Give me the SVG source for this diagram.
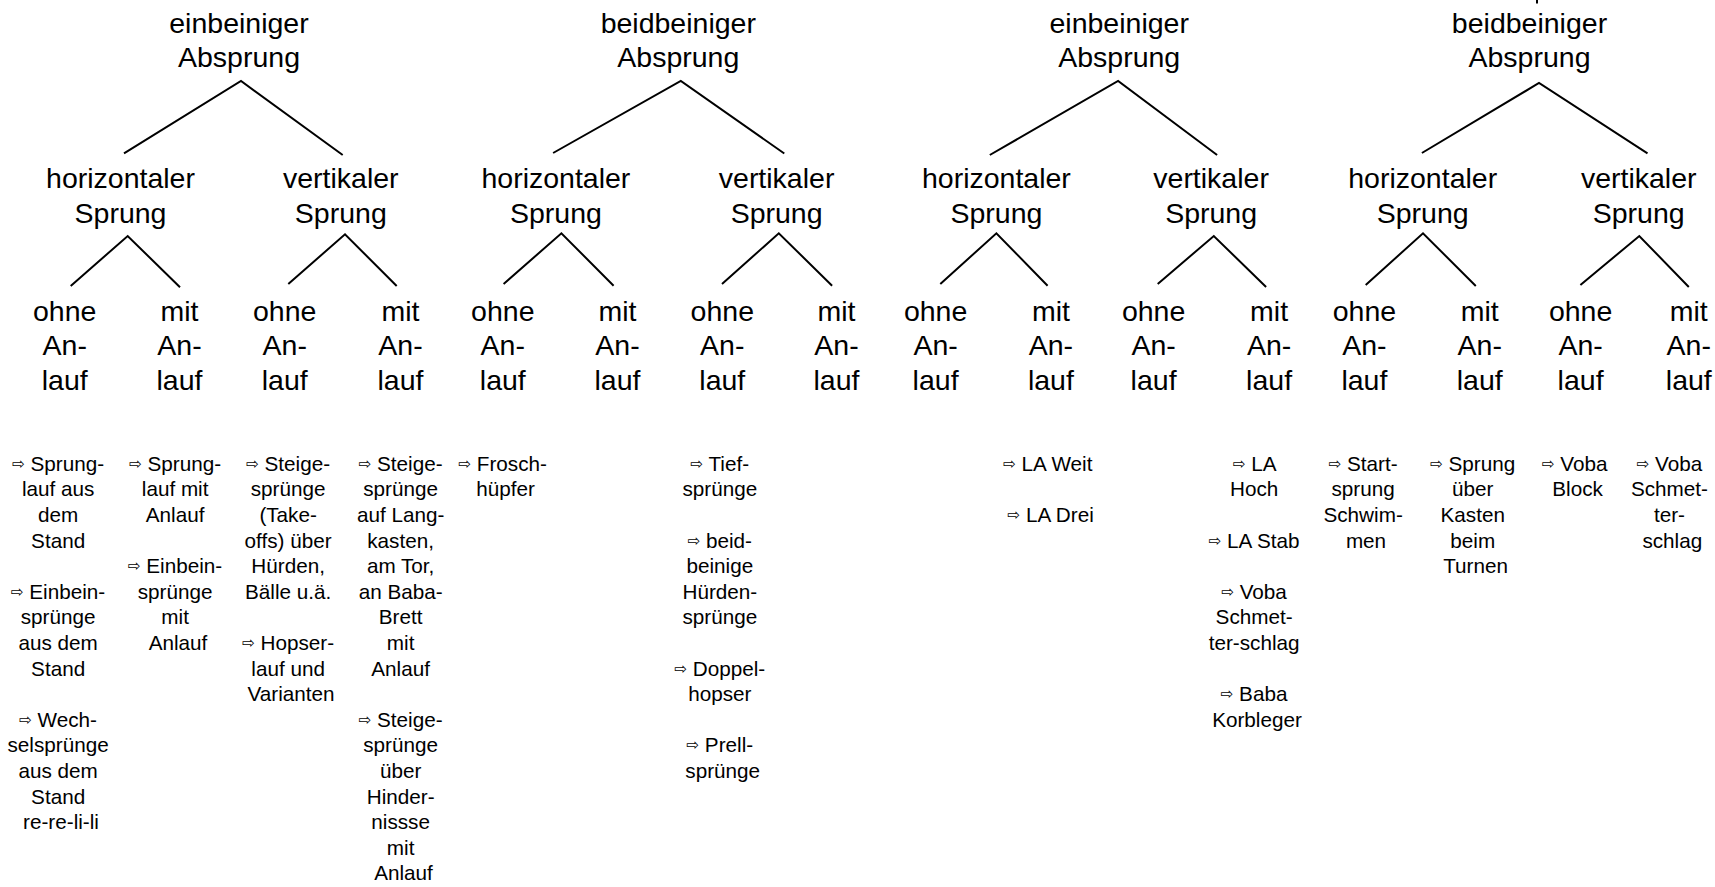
<svg xmlns="http://www.w3.org/2000/svg" width="1715" height="887" viewBox="0 0 1715 887">
  <style>
    text { font-family: "Liberation Sans", Arial, sans-serif; fill: #000; text-anchor: middle; }
    .h { font-size: 28.5px; }
    .s { font-size: 20.7px; }
    .ar { font-family: "DejaVu Sans", sans-serif; font-size: 15px; }
    .edge { stroke: #000; stroke-width: 2; fill: none; stroke-linecap: butt; }
  </style>
  <rect width="1715" height="887" fill="#fff"/>

  <!-- connectors -->
  <g id="connectors" class="edge">
    <line x1="1537" y1="0" x2="1537" y2="3.5"/>
    <!-- tree 1 -->
    <polyline points="124,153.3 241,81 342.7,155"/>
    <polyline points="70.7,286 127.7,236 180,287.3"/>
    <polyline points="288.3,284 345,234.3 396.7,286"/>
    <!-- tree 2 -->
    <polyline points="553.1,153 680.8,81 784.3,153.5"/>
    <polyline points="503.6,284 561.4,233.3 613.6,285.7"/>
    <polyline points="722,284 778.8,233.3 832.1,285.7"/>
    <!-- tree 3 -->
    <polyline points="989.8,155 1118.1,81 1217.1,155"/>
    <polyline points="940.3,284 996.4,233.3 1047.6,285.7"/>
    <polyline points="1157.7,284 1213.8,236 1266.1,287"/>
    <!-- tree 4 -->
    <polyline points="1421.9,153 1539,83 1647.5,153.3"/>
    <polyline points="1365.7,285 1423,233.3 1475.8,286"/>
    <polyline points="1580.4,285 1639.3,236 1688.8,287"/>
  </g>

  <!-- root nodes -->
  <g id="root-1"><text class="h"><tspan x="239" y="33.3">einbeiniger</tspan><tspan x="239" y="67.3">Absprung</tspan></text></g>
  <g id="root-2"><text class="h"><tspan x="678.3" y="33.3">beidbeiniger</tspan><tspan x="678.3" y="67.3">Absprung</tspan></text></g>
  <g id="root-3"><text class="h"><tspan x="1119.2" y="33.3">einbeiniger</tspan><tspan x="1119.2" y="67.3">Absprung</tspan></text></g>
  <g id="root-4"><text class="h"><tspan x="1529.5" y="33.3">beidbeiniger</tspan><tspan x="1529.5" y="67.3">Absprung</tspan></text></g>

  <!-- direction nodes -->
  <g id="dir-1h"><text class="h"><tspan x="120.5" y="188.3">horizontaler</tspan><tspan x="120.5" y="222.7">Sprung</tspan></text></g>
  <g id="dir-1v"><text class="h"><tspan x="340.8" y="188.3">vertikaler</tspan><tspan x="340.8" y="222.7">Sprung</tspan></text></g>
  <g id="dir-2h"><text class="h"><tspan x="555.9" y="188.3">horizontaler</tspan><tspan x="555.9" y="222.7">Sprung</tspan></text></g>
  <g id="dir-2v"><text class="h"><tspan x="776.6" y="188.3">vertikaler</tspan><tspan x="776.6" y="222.7">Sprung</tspan></text></g>
  <g id="dir-3h"><text class="h"><tspan x="996.4" y="188.3">horizontaler</tspan><tspan x="996.4" y="222.7">Sprung</tspan></text></g>
  <g id="dir-3v"><text class="h"><tspan x="1211.1" y="188.3">vertikaler</tspan><tspan x="1211.1" y="222.7">Sprung</tspan></text></g>
  <g id="dir-4h"><text class="h"><tspan x="1422.7" y="188.3">horizontaler</tspan><tspan x="1422.7" y="222.7">Sprung</tspan></text></g>
  <g id="dir-4v"><text class="h"><tspan x="1638.7" y="188.3">vertikaler</tspan><tspan x="1638.7" y="222.7">Sprung</tspan></text></g>

  <!-- run-up leaves -->
  <g id="leaf-1a"><text class="h"><tspan x="64.7" y="320.5">ohne</tspan><tspan x="64.7" y="355.3">An-</tspan><tspan x="64.7" y="390">lauf</tspan></text></g>
  <g id="leaf-1b"><text class="h"><tspan x="179.5" y="320.5">mit</tspan><tspan x="179.5" y="355.3">An-</tspan><tspan x="179.5" y="390">lauf</tspan></text></g>
  <g id="leaf-1c"><text class="h"><tspan x="284.7" y="320.5">ohne</tspan><tspan x="284.7" y="355.3">An-</tspan><tspan x="284.7" y="390">lauf</tspan></text></g>
  <g id="leaf-1d"><text class="h"><tspan x="400.5" y="320.5">mit</tspan><tspan x="400.5" y="355.3">An-</tspan><tspan x="400.5" y="390">lauf</tspan></text></g>
  <g id="leaf-2a"><text class="h"><tspan x="502.8" y="320.5">ohne</tspan><tspan x="502.8" y="355.3">An-</tspan><tspan x="502.8" y="390">lauf</tspan></text></g>
  <g id="leaf-2b"><text class="h"><tspan x="617.5" y="320.5">mit</tspan><tspan x="617.5" y="355.3">An-</tspan><tspan x="617.5" y="390">lauf</tspan></text></g>
  <g id="leaf-2c"><text class="h"><tspan x="722.3" y="320.5">ohne</tspan><tspan x="722.3" y="355.3">An-</tspan><tspan x="722.3" y="390">lauf</tspan></text></g>
  <g id="leaf-2d"><text class="h"><tspan x="836.5" y="320.5">mit</tspan><tspan x="836.5" y="355.3">An-</tspan><tspan x="836.5" y="390">lauf</tspan></text></g>
  <g id="leaf-3a"><text class="h"><tspan x="935.6" y="320.5">ohne</tspan><tspan x="935.6" y="355.3">An-</tspan><tspan x="935.6" y="390">lauf</tspan></text></g>
  <g id="leaf-3b"><text class="h"><tspan x="1050.9" y="320.5">mit</tspan><tspan x="1050.9" y="355.3">An-</tspan><tspan x="1050.9" y="390">lauf</tspan></text></g>
  <g id="leaf-3c"><text class="h"><tspan x="1153.6" y="320.5">ohne</tspan><tspan x="1153.6" y="355.3">An-</tspan><tspan x="1153.6" y="390">lauf</tspan></text></g>
  <g id="leaf-3d"><text class="h"><tspan x="1269.1" y="320.5">mit</tspan><tspan x="1269.1" y="355.3">An-</tspan><tspan x="1269.1" y="390">lauf</tspan></text></g>
  <g id="leaf-4a"><text class="h"><tspan x="1364.4" y="320.5">ohne</tspan><tspan x="1364.4" y="355.3">An-</tspan><tspan x="1364.4" y="390">lauf</tspan></text></g>
  <g id="leaf-4b"><text class="h"><tspan x="1479.7" y="320.5">mit</tspan><tspan x="1479.7" y="355.3">An-</tspan><tspan x="1479.7" y="390">lauf</tspan></text></g>
  <g id="leaf-4c"><text class="h"><tspan x="1580.6" y="320.5">ohne</tspan><tspan x="1580.6" y="355.3">An-</tspan><tspan x="1580.6" y="390">lauf</tspan></text></g>
  <g id="leaf-4d"><text class="h"><tspan x="1688.8" y="320.5">mit</tspan><tspan x="1688.8" y="355.3">An-</tspan><tspan x="1688.8" y="390">lauf</tspan></text></g>

  <!-- example lists, one column per leaf; line step 25.6 -->
  <g id="ex-1a"><text class="s">
    <tspan x="61" y="470.7"><tspan class="ar" dy="-2">⇨</tspan><tspan dy="2"> Sprung-</tspan></tspan>
    <tspan x="61" y="496.3">lauf aus</tspan>
    <tspan x="61" y="521.9">dem</tspan>
    <tspan x="61" y="547.5">Stand</tspan>
    <tspan x="61" y="598.7"><tspan class="ar" dy="-2">⇨</tspan><tspan dy="2"> Einbein-</tspan></tspan>
    <tspan x="61" y="624.3">sprünge</tspan>
    <tspan x="61" y="649.9">aus dem</tspan>
    <tspan x="61" y="675.5">Stand</tspan>
    <tspan x="61" y="726.7"><tspan class="ar" dy="-2">⇨</tspan><tspan dy="2"> Wech-</tspan></tspan>
    <tspan x="61" y="752.3">selsprünge</tspan>
    <tspan x="61" y="777.9">aus dem</tspan>
    <tspan x="61" y="803.5">Stand</tspan>
    <tspan x="61" y="829.1">re-re-li-li</tspan>
  </text></g>
  <g id="ex-1b"><text class="s">
    <tspan x="178" y="470.7"><tspan class="ar" dy="-2">⇨</tspan><tspan dy="2"> Sprung-</tspan></tspan>
    <tspan x="178" y="496.3">lauf mit</tspan>
    <tspan x="178" y="521.9">Anlauf</tspan>
    <tspan x="178" y="573.1"><tspan class="ar" dy="-2">⇨</tspan><tspan dy="2"> Einbein-</tspan></tspan>
    <tspan x="178" y="598.7">sprünge</tspan>
    <tspan x="178" y="624.3">mit</tspan>
    <tspan x="178" y="649.9">Anlauf</tspan>
  </text></g>
  <g id="ex-1c"><text class="s">
    <tspan x="291" y="470.7"><tspan class="ar" dy="-2">⇨</tspan><tspan dy="2"> Steige-</tspan></tspan>
    <tspan x="291" y="496.3">sprünge</tspan>
    <tspan x="291" y="521.9">(Take-</tspan>
    <tspan x="291" y="547.5">offs) über</tspan>
    <tspan x="291" y="573.1">Hürden,</tspan>
    <tspan x="291" y="598.7">Bälle u.ä.</tspan>
    <tspan x="291" y="649.9"><tspan class="ar" dy="-2">⇨</tspan><tspan dy="2"> Hopser-</tspan></tspan>
    <tspan x="291" y="675.5">lauf und</tspan>
    <tspan x="291" y="701.1">Varianten</tspan>
  </text></g>
  <g id="ex-1d"><text class="s">
    <tspan x="403.5" y="470.7"><tspan class="ar" dy="-2">⇨</tspan><tspan dy="2"> Steige-</tspan></tspan>
    <tspan x="403.5" y="496.3">sprünge</tspan>
    <tspan x="403.5" y="521.9">auf Lang-</tspan>
    <tspan x="403.5" y="547.5">kasten,</tspan>
    <tspan x="403.5" y="573.1">am Tor,</tspan>
    <tspan x="403.5" y="598.7">an Baba-</tspan>
    <tspan x="403.5" y="624.3">Brett</tspan>
    <tspan x="403.5" y="649.9">mit</tspan>
    <tspan x="403.5" y="675.5">Anlauf</tspan>
    <tspan x="403.5" y="726.7"><tspan class="ar" dy="-2">⇨</tspan><tspan dy="2"> Steige-</tspan></tspan>
    <tspan x="403.5" y="752.3">sprünge</tspan>
    <tspan x="403.5" y="777.9">über</tspan>
    <tspan x="403.5" y="803.5">Hinder-</tspan>
    <tspan x="403.5" y="829.1">nissse</tspan>
    <tspan x="403.5" y="854.7">mit</tspan>
    <tspan x="403.5" y="880.3">Anlauf</tspan>
  </text></g>
  <g id="ex-2a"><text class="s">
    <tspan x="505.6" y="470.7"><tspan class="ar" dy="-2">⇨</tspan><tspan dy="2"> Frosch-</tspan></tspan>
    <tspan x="505.6" y="496.3">hüpfer</tspan>
  </text></g>
  <g id="ex-2c"><text class="s">
    <tspan x="722.7" y="470.7"><tspan class="ar" dy="-2">⇨</tspan><tspan dy="2"> Tief-</tspan></tspan>
    <tspan x="722.7" y="496.3">sprünge</tspan>
    <tspan x="722.7" y="547.5"><tspan class="ar" dy="-2">⇨</tspan><tspan dy="2"> beid-</tspan></tspan>
    <tspan x="722.7" y="573.1">beinige</tspan>
    <tspan x="722.7" y="598.7">Hürden-</tspan>
    <tspan x="722.7" y="624.3">sprünge</tspan>
    <tspan x="722.7" y="675.5"><tspan class="ar" dy="-2">⇨</tspan><tspan dy="2"> Doppel-</tspan></tspan>
    <tspan x="722.7" y="701.1">hopser</tspan>
    <tspan x="722.7" y="752.3"><tspan class="ar" dy="-2">⇨</tspan><tspan dy="2"> Prell-</tspan></tspan>
    <tspan x="722.7" y="777.9">sprünge</tspan>
  </text></g>
  <g id="ex-3b"><text class="s">
    <tspan x="1050.7" y="470.7"><tspan class="ar" dy="-2">⇨</tspan><tspan dy="2"> LA Weit</tspan></tspan>
    <tspan x="1050.7" y="521.9"><tspan class="ar" dy="-2">⇨</tspan><tspan dy="2"> LA Drei</tspan></tspan>
  </text></g>
  <g id="ex-3d"><text class="s">
    <tspan x="1257" y="470.7"><tspan class="ar" dy="-2">⇨</tspan><tspan dy="2"> LA</tspan></tspan>
    <tspan x="1257" y="496.3">Hoch</tspan>
    <tspan x="1257" y="547.5"><tspan class="ar" dy="-2">⇨</tspan><tspan dy="2"> LA Stab</tspan></tspan>
    <tspan x="1257" y="598.7"><tspan class="ar" dy="-2">⇨</tspan><tspan dy="2"> Voba</tspan></tspan>
    <tspan x="1257" y="624.3">Schmet-</tspan>
    <tspan x="1257" y="649.9">ter-schlag</tspan>
    <tspan x="1257" y="701.1"><tspan class="ar" dy="-2">⇨</tspan><tspan dy="2"> Baba</tspan></tspan>
    <tspan x="1257" y="726.7">Korbleger</tspan>
  </text></g>
  <g id="ex-4a"><text class="s">
    <tspan x="1366" y="470.7"><tspan class="ar" dy="-2">⇨</tspan><tspan dy="2"> Start-</tspan></tspan>
    <tspan x="1366" y="496.3">sprung</tspan>
    <tspan x="1366" y="521.9">Schwim-</tspan>
    <tspan x="1366" y="547.5">men</tspan>
  </text></g>
  <g id="ex-4b"><text class="s">
    <tspan x="1475.6" y="470.7"><tspan class="ar" dy="-2">⇨</tspan><tspan dy="2"> Sprung</tspan></tspan>
    <tspan x="1475.6" y="496.3">über</tspan>
    <tspan x="1475.6" y="521.9">Kasten</tspan>
    <tspan x="1475.6" y="547.5">beim</tspan>
    <tspan x="1475.6" y="573.1">Turnen</tspan>
  </text></g>
  <g id="ex-4c"><text class="s">
    <tspan x="1577.6" y="470.7"><tspan class="ar" dy="-2">⇨</tspan><tspan dy="2"> Voba</tspan></tspan>
    <tspan x="1577.6" y="496.3">Block</tspan>
  </text></g>
  <g id="ex-4d"><text class="s">
    <tspan x="1672.3" y="470.7"><tspan class="ar" dy="-2">⇨</tspan><tspan dy="2"> Voba</tspan></tspan>
    <tspan x="1672.3" y="496.3">Schmet-</tspan>
    <tspan x="1672.3" y="521.9">ter-</tspan>
    <tspan x="1672.3" y="547.5">schlag</tspan>
  </text></g>
</svg>
